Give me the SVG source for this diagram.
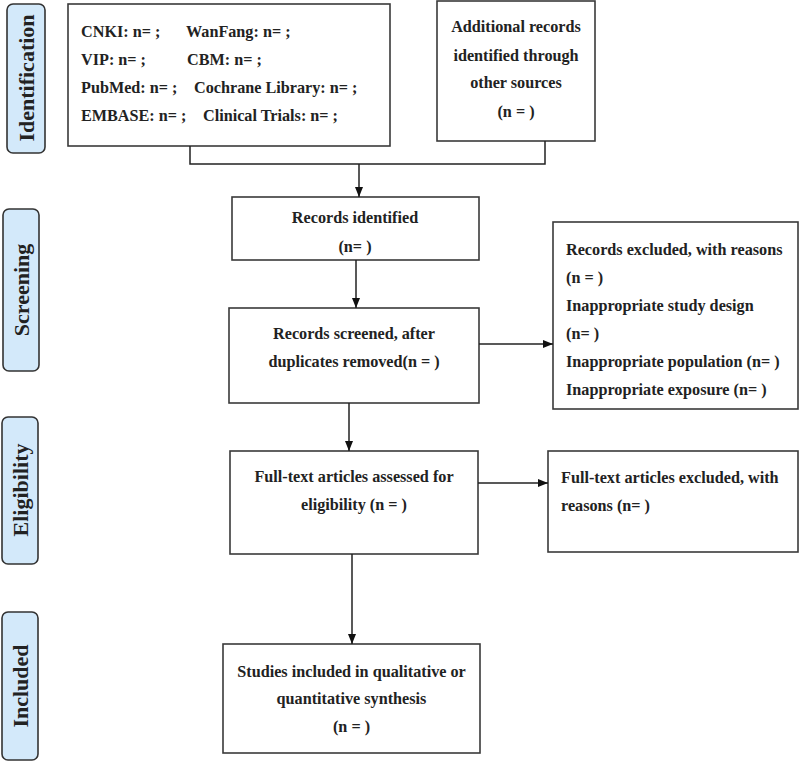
<svg xmlns="http://www.w3.org/2000/svg" width="800" height="761" viewBox="0 0 800 761">
<defs>
<style>
.box{fill:#fff;stroke:#3a3a3a;stroke-width:1.6}
.side{fill:#d3e9fa;stroke:#333;stroke-width:1.6}
.t{font-family:"Liberation Serif","Times New Roman",serif;font-weight:bold;font-size:16.2px;fill:#222}
.c{text-anchor:middle}
.st{font-family:"Liberation Serif","Times New Roman",serif;font-weight:bold;font-size:22px;fill:#222;text-anchor:middle}
.ln{fill:none;stroke:#222;stroke-width:1.5}
</style>
<marker id="ah" markerWidth="10" markerHeight="8" refX="10" refY="4" orient="auto" markerUnits="userSpaceOnUse">
<path d="M0,0 L10,4 L0,8 z" fill="#111"/>
</marker>
</defs>
<rect width="800" height="761" fill="#fff"/>

<g id="stage-identification">
<rect class="side" x="7" y="4" width="38" height="149" rx="6"/>
<text class="st" transform="translate(33.5,78) rotate(-90)">Identification</text>
</g>
<g id="stage-screening">
<rect class="side" x="3" y="209" width="36" height="162" rx="6"/>
<text class="st" transform="translate(29,290) rotate(-90)">Screening</text>
</g>
<g id="stage-eligibility">
<rect class="side" x="2" y="417" width="36" height="147" rx="6"/>
<text class="st" transform="translate(28,490) rotate(-90)">Eligibility</text>
</g>
<g id="stage-included">
<rect class="side" x="2" y="612" width="36" height="148" rx="6"/>
<text class="st" transform="translate(28,686) rotate(-90)">Included</text>
</g>

<g id="databases">
<rect class="box" x="68" y="4" width="322" height="142"/>
<text class="t" x="81" y="37">CNKI: n= ;</text>
<text class="t" x="186" y="37">WanFang: n= ;</text>
<text class="t" x="81" y="65">VIP: n= ;</text>
<text class="t" x="187" y="65">CBM: n= ;</text>
<text class="t" x="81" y="93">PubMed: n= ;</text>
<text class="t" x="194" y="93">Cochrane Library: n= ;</text>
<text class="t" x="81" y="121">EMBASE: n= ;</text>
<text class="t" x="203" y="121">Clinical Trials: n= ;</text>
</g>

<g id="additional">
<rect class="box" x="437" y="1" width="158" height="140"/>
<text class="t c" x="516" y="32">Additional records</text>
<text class="t c" x="516" y="61">identified through</text>
<text class="t c" x="516" y="88">other sources</text>
<text class="t c" x="516" y="117">(n = )</text>
</g>

<g id="identified">
<rect class="box" x="232" y="197" width="247" height="63"/>
<text class="t c" x="355" y="223">Records identified</text>
<text class="t c" x="355" y="252">(n= )</text>
</g>

<g id="screened">
<rect class="box" x="229" y="308" width="250" height="95"/>
<text class="t c" x="354" y="339">Records screened, after</text>
<text class="t c" x="354" y="367">duplicates removed(n = )</text>
</g>

<g id="excluded-records">
<rect class="box" x="553" y="222" width="245" height="187"/>
<text class="t" x="566" y="255">Records excluded, with reasons</text>
<text class="t" x="566" y="283">(n = )</text>
<text class="t" x="566" y="311">Inappropriate study design</text>
<text class="t" x="566" y="339">(n= )</text>
<text class="t" x="566" y="367">Inappropriate population (n= )</text>
<text class="t" x="566" y="395">Inappropriate exposure (n= )</text>
</g>

<g id="fulltext">
<rect class="box" x="230" y="451" width="248" height="103"/>
<text class="t c" x="354" y="482">Full-text articles assessed for</text>
<text class="t c" x="354" y="510">eligibility (n = )</text>
</g>

<g id="excluded-fulltext">
<rect class="box" x="548" y="451" width="250" height="101"/>
<text class="t" x="561" y="483">Full-text articles excluded, with</text>
<text class="t" x="561" y="511">reasons (n= )</text>
</g>

<g id="included">
<rect class="box" x="223" y="644" width="257" height="109"/>
<text class="t c" x="351.5" y="677">Studies included in qualitative or</text>
<text class="t c" x="351.5" y="704">quantitative synthesis</text>
<text class="t c" x="351.5" y="732">(n = )</text>
</g>

<g id="connectors">
<path class="ln" d="M190,146 V164 H545 V141"/>
<path class="ln" d="M359,164 V197" marker-end="url(#ah)"/>
<path class="ln" d="M356,260 V308" marker-end="url(#ah)"/>
<path class="ln" d="M479,344 H553" marker-end="url(#ah)"/>
<path class="ln" d="M349,403 V451" marker-end="url(#ah)"/>
<path class="ln" d="M478,483 H548" marker-end="url(#ah)"/>
<path class="ln" d="M352,554 V644" marker-end="url(#ah)"/>
</g>
</svg>
